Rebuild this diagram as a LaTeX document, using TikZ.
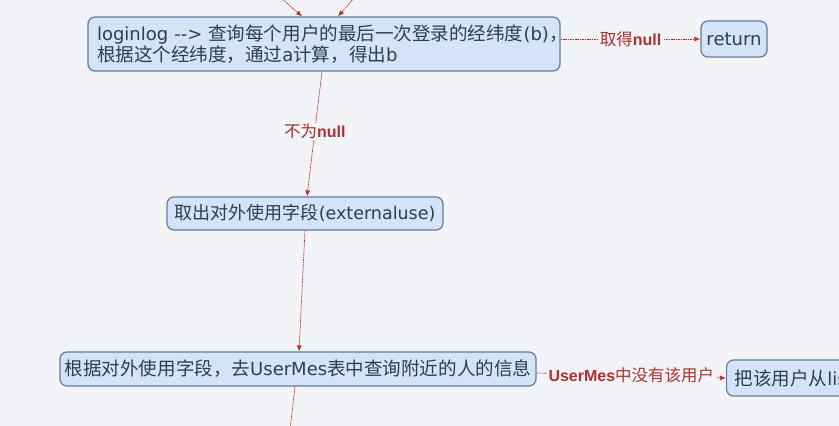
\documentclass[tikz,border=0pt]{standalone}
\usepackage{fontspec}
\setmainfont{DejaVu Sans}
\newfontfamily\cjk[Scale=1.03]{Noto Sans CJK SC}
\newfontfamily\lsans{Liberation Sans}
\usetikzlibrary{arrows.meta}
\definecolor{bgc}{HTML}{F3F4F8}
\definecolor{nfill}{HTML}{D5E3F7}
\definecolor{ndraw}{HTML}{627D9F}
\definecolor{ntext}{HTML}{2B3D5A}
\definecolor{lred}{HTML}{C0302C}
\definecolor{ltext}{HTML}{B0302E}
\begin{document}
\begin{tikzpicture}[x=1pt,y=-1pt,
 box/.style={draw=ndraw, fill=nfill, line width=1.2pt, rounded corners=7pt, text=ntext,
   font=\fontsize{18}{20.5}\selectfont, inner sep=0pt},
 conn/.style={draw=lred, line width=0.7pt, dash pattern=on 1.6pt off 0.8pt,
   -{Latex[length=6pt,width=5pt]}},
 plain/.style={draw=lred, line width=0.7pt, dash pattern=on 1.6pt off 0.8pt},
 lbl/.style={fill=bgc, text=ltext, font=\fontsize{16}{18}\selectfont, inner xsep=2pt, inner ysep=1pt},
]
\fill[bgc] (0,0) rectangle (839,426);
\useasboundingbox (0,0) rectangle (839,426);
\clip (0,0) rectangle (839,426);

\node[box, text width=454pt, inner xsep=9pt, minimum height=54pt, align=left] (n1) at (324,44)
  {\mbox{loginlog {-}{-}> {\cjk 查询每个用户的最后一次登录的经纬度}(b){\cjk ，}}\\\mbox{{\cjk 根据这个经纬度，通过}a{\cjk 计算，得出}b}};
\node[box, minimum width=66pt, minimum height=36pt] (ret) at (734,39) {return};
\node[box, minimum width=276pt, minimum height=33pt, font=\fontsize{17.5}{20}\selectfont] (n2) at (305,213.5)
  {{\cjk 取出对外使用字段}(externaluse)};
\node[box, minimum width=476pt, minimum height=34pt] (n3) at (298,369)
  {{\cjk 根据对外使用字段，去}UserMes{\cjk 表中查询附近的人的信息}};
\node[box, minimum height=36pt, inner xsep=8pt, anchor=west] (n4) at (726,378)
  {{\cjk 把该用户从}lis};

\coordinate (t1) at (281,-2);
\coordinate (t2) at (354,-2);
\coordinate (b1) at (290,430);

\draw[conn] (t1) -- ([xshift=-22pt]n1.north);
\draw[conn] (t2) -- ([xshift=14pt]n1.north);
\draw[conn] (n1.east |- ret.west) -- node[lbl] {{\cjk 取得}{\lsans\bfseries null}} (ret.west);
\draw[conn] ([xshift=-2pt]n1.south) -- node[lbl, pos=0.48] {{\cjk 不为}{\lsans\bfseries null}} ([xshift=2pt]n2.north);
\draw[conn] (n2.south) -- ([xshift=1pt]n3.north);
\draw[conn] ([yshift=-4pt]n3.east) -- node[lbl] {{\lsans\bfseries UserMes}{\cjk 中没有该用户}} (n4.west);
\draw[plain] ([xshift=-3pt]n3.south) -- (b1);
\end{tikzpicture}
\end{document}
